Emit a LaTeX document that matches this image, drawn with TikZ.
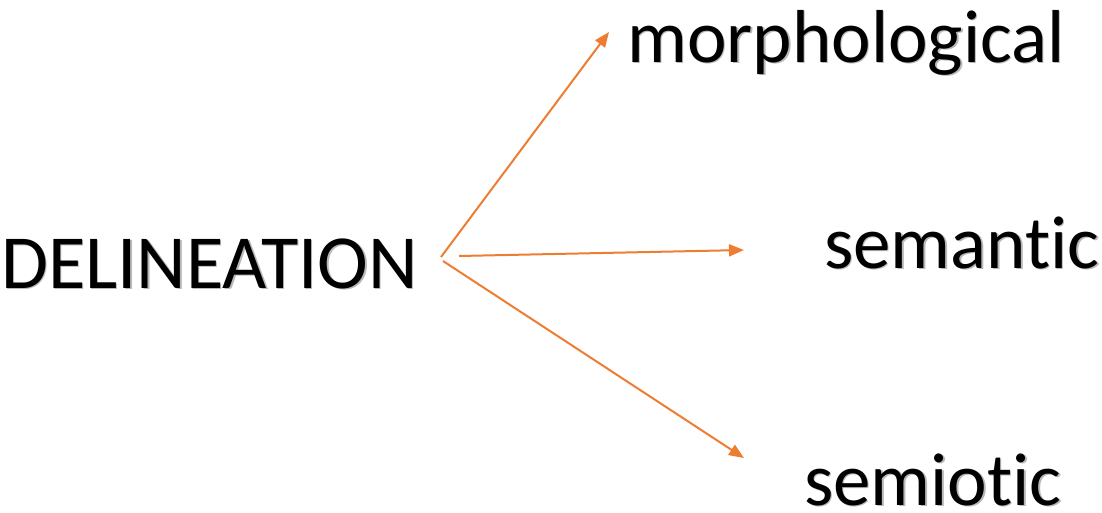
\documentclass[tikz,border=0pt]{standalone}
\usepackage{fontspec}
\setmainfont{Carlito}[Ligatures=NoCommon]
\usetikzlibrary{arrows.meta,calc}
\definecolor{accentorange}{HTML}{ED7D31}
\tikzset{
  term/.style={anchor=base west, inner sep=0pt, font=\fontsize{75}{80}\selectfont, text=black},
  bigterm/.style={term, font=\fontsize{76.5}{80}\selectfont},
  termshadow/.style={text=black!28},
  branch/.style={draw=accentorange, line width=2pt, -{Triangle[length=15pt,width=12pt]}}
}
% a label with a soft drop shadow: name, position, style, text
\newcommand{\shadowedterm}[4]{%
  \node[#3, termshadow] at ($#2+(1.4,1.4)$) {#4};
  \node[#3] (#1) at #2 {#4};
}
\begin{document}
\begin{tikzpicture}[x=1pt,y=-1pt]
  \useasboundingbox (0,0) rectangle (1102,512);
  % labels
  \shadowedterm{root}{(1,288)}{bigterm}{DELINEATION}
  \shadowedterm{morph}{(627,62)}{term}{morphological}
  \shadowedterm{seman}{(824,268)}{term}{semantic}
  \shadowedterm{semio}{(804,505)}{term}{semiotic}
  % arrow ends
  \coordinate (o1) at (441,257);
  \coordinate (o2) at (459,256);
  \coordinate (o3) at (443,261);
  \coordinate (e1) at (609,32);
  \coordinate (e2) at (744,250);
  \coordinate (e3) at (744,458);
  \draw[branch] (o1) -- (e1);
  \draw[branch] (o2) -- (e2);
  \draw[branch] (o3) -- (e3);
\end{tikzpicture}
\end{document}
